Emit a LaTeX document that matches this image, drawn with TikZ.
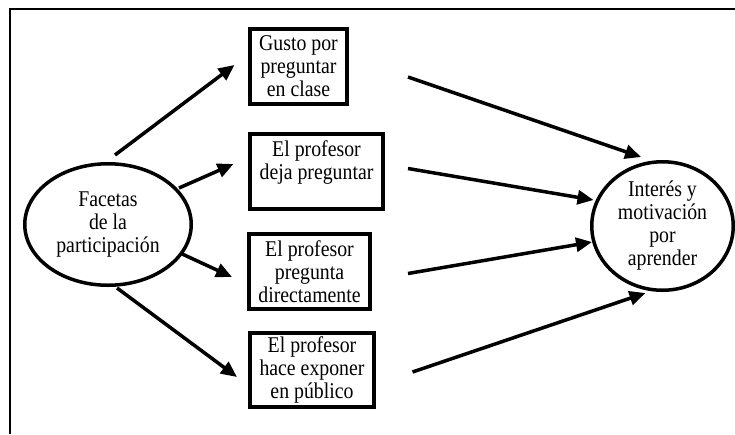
\documentclass[tikz,border=0pt]{standalone}
\usepackage{fontspec}
\setmainfont{Liberation Serif}
\newfontfamily\narrowserif[FakeStretch=0.88]{Liberation Serif}
\usetikzlibrary{shapes.geometric,arrows.meta}

\begin{document}
\begin{tikzpicture}[x=1pt,y=-1pt,
  txt/.style={font=\narrowserif\fontsize{22.5}{23}\selectfont, align=center, inner sep=0pt},
  facet/.style={txt, draw, line width=4pt, rectangle},
  cloud/.style={txt, draw, line width=3.5pt, ellipse},
  link/.style={line width=3.5pt, -{Triangle[length=16pt,width=14pt]}},
  frame/.style={line width=2.5pt}
]
\useasboundingbox (0,0) rectangle (735,434);

% open frame: top and left edges only
\draw[frame] (735,9) -- (10,9) -- (10,434);

% source and target ellipses
\node[cloud, minimum width=166.5pt, minimum height=121.5pt] (fac) at (108,224.5)
  {Facetas\\de la\\participación};
\node[cloud, minimum width=141.5pt, minimum height=128.5pt] (int) at (662.5,226)
  {Interés y\\motivación\\por\\aprender};

% the four facets
\node[facet, minimum width=97pt, minimum height=75pt] (b1) at (298.5,66.5)
  {Gusto por\\preguntar\\en clase};
\node[facet, minimum width=133pt, minimum height=75pt] (b2) at (316.5,171.5)
  {El profesor\\deja preguntar\\\mbox{}};
\node[facet, minimum width=121pt, minimum height=75pt] (b3) at (309.5,271.5)
  {El profesor\\pregunta\\directamente};
\node[facet, minimum width=124pt, minimum height=74pt] (b4) at (312,370)
  {El profesor\\hace exponer\\en público};

% free ends of the connectors
\coordinate (f1) at (115,155);   \coordinate (t1) at (234.5,65);
\coordinate (f2) at (179,188);   \coordinate (t2) at (233.5,164);
\coordinate (f3) at (180,253);   \coordinate (t3) at (232,277);
\coordinate (f4) at (117,288);   \coordinate (t4) at (237,377);
\coordinate (s1) at (408,77);    \coordinate (e1) at (641,157);
\coordinate (s2) at (408,168.5); \coordinate (e2) at (593.5,200);
\coordinate (s3) at (408,273.5); \coordinate (e3) at (592,242);
\coordinate (s4) at (412.5,372); \coordinate (e4) at (645.5,293);

% participation -> facets
\draw[link] (f1) -- (t1);
\draw[link] (f2) -- (t2);
\draw[link] (f3) -- (t3);
\draw[link] (f4) -- (t4);

% facets -> interest
\draw[link] (s1) -- (e1);
\draw[link] (s2) -- (e2);
\draw[link] (s3) -- (e3);
\draw[link] (s4) -- (e4);
\end{tikzpicture}
\end{document}
